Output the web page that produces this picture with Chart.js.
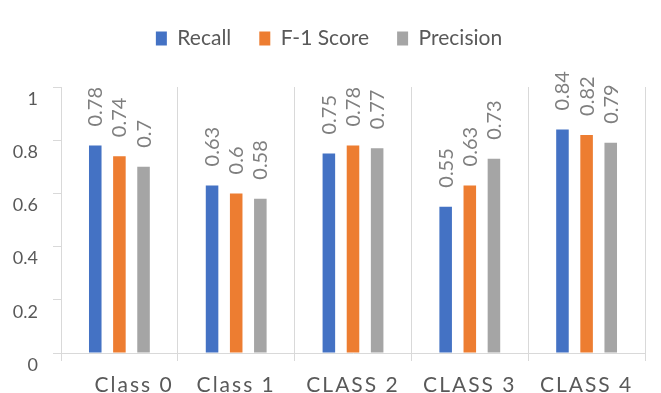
<!DOCTYPE html>
<html>
<head>
<meta charset="utf-8">
<script src="https://cdn.jsdelivr.net/npm/chart.js@4.4.1/dist/chart.umd.min.js"></script>
<style>
  html, body { margin: 0; padding: 0; background: #fff; }
  #wrap { width: 661px; height: 393px; }
</style>
</head>
<body>
<div id="wrap"><canvas id="metricsChart" width="661" height="393"></canvas></div>
<script>
const categories = ['Class 0', 'Class 1', 'CLASS 2', 'CLASS 3', 'CLASS 4'];
const recall = [0.78, 0.63, 0.75, 0.55, 0.84];
const f1Score = [0.74, 0.6, 0.78, 0.63, 0.82];
const precision = [0.7, 0.58, 0.77, 0.73, 0.79];
const yTicks = [0, 0.2, 0.4, 0.6, 0.8, 1];

const axisGray = '#d9d9d9';
const textGray = '#595959';

// value labels, rotated, sitting above each bar
const barValueLabels = {
  id: 'barValueLabels',
  afterDatasetsDraw(chart) {
    const ctx = chart.ctx;
    ctx.save();
    ctx.font = '20px Lato';
    ctx.fillStyle = '#7f7f7f';
    ctx.textAlign = 'left';
    ctx.textBaseline = 'alphabetic';
    chart.data.datasets.forEach((ds, i) => {
      chart.getDatasetMeta(i).data.forEach((bar, j) => {
        ctx.save();
        ctx.translate(bar.x, bar.y - 19);
        ctx.rotate(-Math.PI / 2);
        ctx.fillText(String(ds.data[j]), 0, 7);
        ctx.restore();
      });
    });
    ctx.restore();
  }
};

// the category names are letter-spaced in the original
const spacedXLabels = {
  id: 'spacedXLabels',
  beforeDraw(chart) {
    const scale = chart.scales.x;
    if (scale._spaced) return;
    const draw = scale.drawLabels;
    scale.drawLabels = function (area) {
      this.ctx.save();
      this.ctx.letterSpacing = '2px';
      draw.call(this, area);
      this.ctx.restore();
    };
    scale._spaced = true;
  }
};

// extra room between legend and plot
const legendGap = {
  id: 'legendGap',
  beforeInit(chart) {
    const fit = chart.legend.fit;
    chart.legend.fit = function () {
      fit.call(this);
      this.height += 28;
    };
  }
};

const ctx = document.getElementById('metricsChart');
new Chart(ctx, {
  type: 'bar',
  data: {
    labels: categories,
    datasets: [
      { label: 'Recall', data: recall, backgroundColor: '#4472c4' },
      { label: 'F-1 Score', data: f1Score, backgroundColor: '#ed7d31' },
      { label: 'Precision', data: precision, backgroundColor: '#a5a5a5' }
    ]
  },
  options: {
    responsive: false,
    devicePixelRatio: 1,
    animation: false,
    categoryPercentage: 0.62,
    barPercentage: 0.52,
    layout: { padding: { left: 13, right: 16, top: 0, bottom: 0 } },
    plugins: {
      tooltip: { enabled: false },
      legend: {
        position: 'top',
        labels: {
          boxWidth: 11,
          boxHeight: 14,
          padding: 28,
          color: textGray,
          font: { family: 'Lato', size: 21 }
        }
      }
    },
    scales: {
      x: {
        afterFit: s => { s.height = 40; },
        grid: { color: axisGray, tickLength: 8, drawOnChartArea: true },
        border: { color: axisGray },
        ticks: {
          color: textGray,
          padding: 16,
          font: { family: 'Lato', size: 21, lineHeight: 0.8 },
          maxRotation: 0,
          callback: (v, i) => (i === 0 ? '    ' : '') + categories[i]
        }
      },
      y: {
        min: 0,
        max: 1,
        afterBuildTicks: s => { s.ticks = yTicks.map(v => ({ value: v })); },
        afterFit: s => { s.width = 48; },
        grid: { color: axisGray, tickLength: 8, drawOnChartArea: false },
        border: { color: axisGray },
        ticks: {
          color: textGray,
          padding: 15,
          labelOffset: 12,
          font: { family: 'Lato', size: 18 },
          callback: v => String(v)
        }
      }
    }
  },
  plugins: [barValueLabels, spacedXLabels, legendGap]
});
</script>
</body>
</html>
